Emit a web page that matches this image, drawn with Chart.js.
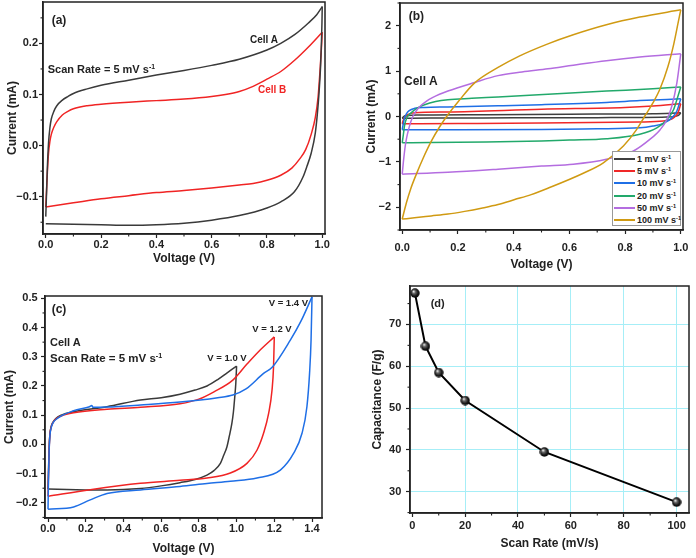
<!DOCTYPE html>
<html><head><meta charset="utf-8">
<script src="https://cdn.jsdelivr.net/npm/chart.js@4.4.0/dist/chart.umd.min.js"></script>
<style>
html,body{margin:0;padding:0;background:#fff;}
#wrap{position:relative;width:696px;height:558px;overflow:hidden;font-family:"Liberation Sans",Arial,sans-serif;}
canvas{position:absolute;}
.t{position:absolute;font-weight:bold;white-space:nowrap;line-height:1;color:#222;}
sup{font-size:0.62em;vertical-align:0.55em;line-height:0;}
#legB{position:absolute;left:612px;top:151px;width:69px;height:75px;border:1px solid #999;box-sizing:border-box;background:#fff;padding-top:1px;font-weight:bold;font-size:9px;color:#222;}
.lr{position:relative;height:12.2px;line-height:12.2px;padding-left:24px;white-space:nowrap;}
.ls{position:absolute;left:1px;top:5px;width:21px;height:2px;}
</style></head><body><div id="wrap">
<canvas id="ca" width="348" height="279" style="left:0;top:0"></canvas>
<canvas id="cb" width="348" height="279" style="left:348px;top:0"></canvas>
<canvas id="cc" width="348" height="279" style="left:0;top:279px"></canvas>
<canvas id="cd" width="348" height="279" style="left:348px;top:279px"></canvas>
<div id="legB"></div>
</div>
<script>
// ---------------- Panel (a): Cell A / Cell B, 5 mV/s ----------------
const aCellA_V = [0,0.003,0.006,0.01,0.015,0.02,0.03,0.04,0.06,0.08,0.1,0.15,0.2,0.3,0.4,0.5,0.6,0.7,0.8,0.85,0.9,0.95,0.98,1.0,0.999,0.997,0.994,0.988,0.982,0.975,0.96,0.945,0.93,0.9,0.85,0.8,0.7,0.6,0.5,0.4,0.3,0.2,0.1,0];
const aCellA_I = [-0.139,-0.09,-0.04,0.005,0.035,0.052,0.068,0.078,0.089,0.096,0.102,0.111,0.118,0.128,0.138,0.147,0.157,0.169,0.187,0.2,0.217,0.24,0.256,0.272,0.24,0.2,0.155,0.1,0.06,0.025,-0.015,-0.04,-0.062,-0.09,-0.11,-0.122,-0.137,-0.146,-0.152,-0.155,-0.156,-0.155,-0.154,-0.153];
const aCellB_V = [0,0.003,0.006,0.01,0.015,0.02,0.03,0.04,0.06,0.08,0.1,0.15,0.2,0.3,0.4,0.5,0.6,0.65,0.7,0.75,0.8,0.85,0.9,0.95,1.0,0.997,0.993,0.985,0.975,0.96,0.94,0.92,0.89,0.85,0.8,0.75,0.7,0.6,0.5,0.4,0.3,0.2,0.1,0];
const aCellB_I = [-0.12,-0.085,-0.05,-0.015,0.008,0.022,0.037,0.047,0.06,0.067,0.072,0.078,0.081,0.085,0.088,0.091,0.096,0.1,0.106,0.116,0.13,0.145,0.167,0.193,0.222,0.19,0.155,0.095,0.055,0.022,-0.008,-0.025,-0.044,-0.058,-0.068,-0.074,-0.077,-0.083,-0.088,-0.092,-0.098,-0.104,-0.112,-0.12];
const aXTicks = [0,0.2,0.4,0.6,0.8,1.0], aXMinor = [0.1,0.3,0.5,0.7,0.9];
const aYTicks = [-0.1,0,0.1,0.2], aYMinor = [-0.15,-0.05,0.05,0.15,0.25];

// ---------------- Panel (b): Cell A, scan rates ----------------
const bRates = ['1','5','10','20','50','100'];
const b1_V = [0,0.005,0.02,0.06,0.3,0.6,0.9,1.0,0.99,0.95,0.7,0.4,0.1,0];
const b1_I = [-0.04,0.0,0.022,0.032,0.04,0.05,0.063,0.08,0.02,-0.01,-0.025,-0.03,-0.035,-0.04];
const b5_V = [0,0.004,0.01,0.02,0.044,0.164,0.5,0.8,0.9,1.0,0.99,0.974,0.938,0.853,0.5,0.2,0];
const b5_I = [-0.16,-0.08,-0.02,0.04,0.08,0.1,0.16,0.2,0.23,0.28,0.08,-0.03,-0.1,-0.12,-0.145,-0.155,-0.16];
const b10_V = [0,0.004,0.008,0.015,0.025,0.045,0.08,0.164,0.344,0.5,0.733,0.853,1.0,0.986,0.968,0.938,0.9,0.853,0.7,0.5,0.2,0];
const b10_I = [-0.29,-0.15,-0.04,0.06,0.13,0.18,0.2,0.21,0.235,0.26,0.31,0.35,0.39,0.12,-0.03,-0.15,-0.21,-0.25,-0.27,-0.285,-0.29,-0.29];
const b20_V = [0,0.004,0.008,0.015,0.032,0.055,0.08,0.12,0.164,0.25,0.344,0.523,0.733,0.9,1.0,0.986,0.974,0.95,0.914,0.853,0.733,0.6,0.5,0.3,0.1,0];
const b20_I = [-0.58,-0.4,-0.21,-0.05,0.08,0.19,0.26,0.33,0.37,0.4,0.43,0.49,0.56,0.61,0.65,0.37,0.15,-0.07,-0.25,-0.39,-0.49,-0.52,-0.54,-0.56,-0.57,-0.58];
const b50_V = [0,0.005,0.012,0.022,0.038,0.06,0.085,0.11,0.164,0.26,0.344,0.43,0.523,0.614,0.733,0.853,1.0,0.986,0.968,0.95,0.926,0.89,0.83,0.733,0.614,0.5,0.344,0.164,0];
const b50_I = [-1.27,-0.95,-0.6,-0.3,0.0,0.2,0.33,0.42,0.56,0.75,0.9,0.98,1.05,1.13,1.23,1.31,1.38,0.74,0.23,-0.07,-0.29,-0.5,-0.76,-0.94,-1.05,-1.09,-1.16,-1.23,-1.27];
const b100_V = [0,0.015,0.03,0.05,0.075,0.104,0.135,0.164,0.2,0.26,0.344,0.42,0.523,0.614,0.733,0.853,1.0,0.99,0.975,0.954,0.925,0.9,0.87,0.84,0.794,0.722,0.65,0.523,0.463,0.404,0.344,0.284,0.224,0.164,0.104,0.044,0];
const b100_I = [-2.26,-1.9,-1.6,-1.28,-0.92,-0.55,-0.22,0.04,0.32,0.74,1.08,1.33,1.6,1.8,2.02,2.19,2.35,2.05,1.6,1.1,0.6,0.3,0.0,-0.3,-0.65,-1.02,-1.25,-1.58,-1.72,-1.83,-1.94,-2.02,-2.09,-2.15,-2.19,-2.23,-2.26];
const bXTicks = [0,0.2,0.4,0.6,0.8,1.0], bXMinor = [0.1,0.3,0.5,0.7,0.9];
const bYTicks = [-2,-1,0,1,2], bYMinor = [-2.5,-1.5,-0.5,0.5,1.5,2.5];

// ---------------- Panel (c): Cell A, voltage windows ----------------
const cWindows = ['V = 1.0 V','V = 1.2 V','V = 1.4 V'];
const c10_V = [0,0.003,0.006,0.01,0.016,0.025,0.04,0.07,0.136,0.313,0.49,0.6,0.7,0.78,0.843,0.9,0.95,1.0,0.996,0.99,0.983,0.975,0.962,0.949,0.93,0.914,0.88,0.843,0.78,0.7,0.6,0.49,0.313,0.15,0];
const c10_I = [-0.153,-0.08,-0.01,0.035,0.06,0.075,0.088,0.1,0.112,0.129,0.152,0.16,0.172,0.186,0.2,0.222,0.245,0.268,0.21,0.16,0.11,0.072,0.03,-0.008,-0.04,-0.065,-0.09,-0.105,-0.12,-0.131,-0.142,-0.151,-0.156,-0.155,-0.153];
const c12_V = [0,0.003,0.006,0.01,0.016,0.025,0.04,0.07,0.136,0.313,0.49,0.7,0.8,0.88,0.98,1.055,1.12,1.2,1.196,1.188,1.17,1.143,1.108,1.055,0.967,0.843,0.7,0.49,0.224,0];
const c12_I = [-0.178,-0.09,-0.015,0.033,0.057,0.073,0.086,0.097,0.108,0.12,0.127,0.139,0.155,0.18,0.22,0.275,0.32,0.368,0.266,0.186,0.106,0.038,-0.02,-0.065,-0.098,-0.115,-0.123,-0.133,-0.155,-0.178];
const c14_V = [0,0.003,0.006,0.01,0.016,0.025,0.05,0.136,0.22,0.232,0.238,0.313,0.49,0.7,0.9,0.98,1.05,1.143,1.19,1.285,1.34,1.4,1.395,1.387,1.373,1.347,1.302,1.232,1.108,0.967,0.843,0.7,0.49,0.313,0.224,0.136,0];
const c14_I = [-0.222,-0.1,-0.02,0.03,0.055,0.072,0.089,0.115,0.129,0.133,0.127,0.128,0.135,0.145,0.16,0.169,0.19,0.243,0.265,0.357,0.42,0.505,0.357,0.243,0.129,0.038,-0.031,-0.088,-0.115,-0.126,-0.134,-0.144,-0.156,-0.168,-0.19,-0.214,-0.222];
const cXTicks = [0,0.2,0.4,0.6,0.8,1.0,1.2,1.4], cXMinor = [0.1,0.3,0.5,0.7,0.9,1.1,1.3];
const cYTicks = [-0.2,-0.1,0,0.1,0.2,0.3,0.4,0.5], cYMinor = [-0.25,-0.15,-0.05,0.05,0.15,0.25,0.35,0.45];

// ---------------- Panel (d): capacitance vs scan rate ----------------
const dScanRate = [1,5,10,20,50,100];
const dCapacitance = [77.5,64.8,58.5,51.8,39.5,27.5];
const dXTicks = [0,20,40,60,80,100], dXMinor = [10,30,50,70,90];
const dYTicks = [30,40,50,60,70], dYMinor = [25,35,45,55,65,75];

// ---------------- helpers ----------------
const FF = '"Liberation Sans", Arial, sans-serif';
Chart.defaults.font.family = FF;
Chart.defaults.font.weight = 'bold';
Chart.defaults.color = '#222';
const INK = '#222';

function loop(V, I) {
  const k = V.indexOf(Math.max(...V));
  const up = [], down = [];
  for (let i = 0; i <= k; i++) up.push({x: V[i], y: I[i]});
  for (let i = k; i < V.length; i++) down.push({x: V[i], y: I[i]});
  return [up, down];
}
function loopSets(V, I, color, width) {
  return loop(V, I).map(d => ({data: d, borderColor: color, borderWidth: width || 1.5, pointRadius: 0,
    showLine: true, fill: false, cubicInterpolationMode: 'monotone'}));
}
const minus = s => s.replace('-', '\u2212');

const framePlugin = {
  id: 'frame',
  afterDatasetsDraw(chart, args, opts) {
    const {ctx, chartArea: a} = chart;
    ctx.save();
    // minor ticks
    ctx.strokeStyle = INK; ctx.lineWidth = 1.1;
    const xs = chart.scales.x, ys = chart.scales.y;
    (opts.xMinor || []).forEach(v => { const p = xs.getPixelForValue(v); ctx.beginPath(); ctx.moveTo(p, a.bottom); ctx.lineTo(p, a.bottom + 2.5); ctx.stroke(); });
    (opts.yMinor || []).forEach(v => { const p = ys.getPixelForValue(v); ctx.beginPath(); ctx.moveTo(a.left, p); ctx.lineTo(a.left - 2.5, p); ctx.stroke(); });
    ctx.lineWidth = 1.5;
    ctx.strokeRect(a.left, a.top, a.right - a.left, a.bottom - a.top);
    ctx.restore();
  }
};

function makePanel(id, c) {
  const gridColor = c.grid ? (ctx => (ctx.tick && ctx.tick.value !== 0 ? '#a6eef7' : 'rgba(0,0,0,0)')) : 'rgba(0,0,0,0)';
  return new Chart(document.getElementById(id), {
    type: 'scatter',
    data: {datasets: c.datasets},
    plugins: [framePlugin],
    options: {
      responsive: false, animation: false, events: [],
      layout: {padding: {left: 0, top: c.area.t, right: 348 - c.area.r, bottom: 0}},
      plugins: {legend: {display: false}, tooltip: {enabled: false}, frame: {xMinor: c.xMinor, yMinor: c.yMinor}},
      scales: {
        x: {
          type: 'linear', min: c.xMin, max: c.xMax,
          afterBuildTicks: s => { s.ticks = c.xTicks.map(v => ({value: v})); },
          afterFit: s => { s.height = 279 - c.area.b; s.paddingLeft = 0; s.paddingRight = 0; },
          ticks: {callback: c.xFmt, font: {size: 11, weight: 'bold'}, color: INK, padding: c.xLabelPad, maxRotation: 0, autoSkip: false},
          grid: {drawOnChartArea: !!c.grid, color: gridColor, lineWidth: 1, tickLength: 4, tickColor: INK, tickWidth: 1.2},
          border: {display: true, color: INK, width: 1.5},
          title: {display: true, text: c.xTitle, font: {size: 12, weight: 'bold'}, color: INK, padding: {top: 0, bottom: c.xTitlePad}}
        },
        y: {
          type: 'linear', min: c.yMin, max: c.yMax,
          afterBuildTicks: s => { s.ticks = c.yTicks.map(v => ({value: v})); },
          afterFit: s => { s.width = c.area.l; s.paddingTop = 0; s.paddingBottom = 0; },
          ticks: {callback: c.yFmt, font: {size: 11, weight: 'bold'}, color: INK, padding: c.yLabelPad, autoSkip: false},
          grid: {drawOnChartArea: !!c.grid, color: gridColor, lineWidth: 1, tickLength: 4, tickColor: INK, tickWidth: 1.2},
          border: {display: true, color: INK, width: 1.5},
          title: {display: true, text: c.yTitle, font: {size: 12, weight: 'bold'}, color: INK, padding: {top: c.yTitlePad, bottom: 0}}
        }
      }
    }
  });
}

// ---------------- Panel (a) ----------------
makePanel('ca', {
  area: {l: 43, r: 325, t: 2, b: 234},
  xMin: -0.01, xMax: 1.01, yMin: -0.173, yMax: 0.281,
  xTicks: aXTicks, xMinor: aXMinor, yTicks: aYTicks, yMinor: aYMinor,
  xFmt: v => v.toFixed(1), yFmt: v => minus(v.toFixed(1)),
  xLabelPad: 0.5, yLabelPad: 1, xTitlePad: 13.5, yTitlePad: 5.8,
  xTitle: 'Voltage (V)', yTitle: 'Current (mA)',
  datasets: [...loopSets(aCellA_V, aCellA_I, '#3a3a3a'), ...loopSets(aCellB_V, aCellB_I, '#f02424')]
});

// ---------------- Panel (b) ----------------
const bColors = ['#3f3f3f', '#f02828', '#1f6fe6', '#22a96b', '#b46de0', '#d09a12'];
const bV = [b1_V, b5_V, b10_V, b20_V, b50_V, b100_V], bI = [b1_I, b5_I, b10_I, b20_I, b50_I, b100_I];
const bSets = [];
for (let i = bV.length - 1; i >= 0; i--) bSets.push(...loopSets(bV[i], bI[i], bColors[i]));
makePanel('cb', {
  area: {l: 52, r: 335, t: 3, b: 230},
  xMin: -0.008, xMax: 1.008, yMin: -2.5, yMax: 2.5,
  xTicks: bXTicks, xMinor: bXMinor, yTicks: bYTicks, yMinor: bYMinor,
  xFmt: v => v.toFixed(1), yFmt: v => minus(String(v)),
  xLabelPad: 7.5, yLabelPad: 5, xTitlePad: 6.8, yTitlePad: 16,
  xTitle: 'Voltage (V)', yTitle: 'Current (mA)',
  datasets: bSets
});

// ---------------- Panel (c) ----------------
makePanel('cc', {
  area: {l: 45, r: 322, t: 17, b: 239},
  xMin: -0.016, xMax: 1.453, yMin: -0.252, yMax: 0.508,
  xTicks: cXTicks, xMinor: cXMinor, yTicks: cYTicks, yMinor: cYMinor,
  xFmt: v => v.toFixed(1), yFmt: v => minus(v.toFixed(1)),
  xLabelPad: 0, yLabelPad: 3.4, xTitlePad: 2.5, yTitlePad: 2.8,
  xTitle: 'Voltage (V)', yTitle: 'Current (mA)',
  datasets: [...loopSets(c14_V, c14_I, '#1f6fe6'), ...loopSets(c12_V, c12_I, '#f02424'), ...loopSets(c10_V, c10_I, '#3a3a3a')]
});

// ---------------- Panel (d) ----------------
function sphere(d) {
  const cv = document.createElement('canvas'); cv.width = cv.height = d;
  const g = cv.getContext('2d'); const r = d / 2;
  const gr = g.createRadialGradient(r * 0.7, r * 0.65, 0.3, r, r, r);
  gr.addColorStop(0, '#f4f4f4'); gr.addColorStop(0.3, '#666'); gr.addColorStop(0.7, '#151515'); gr.addColorStop(1, '#000');
  g.fillStyle = gr; g.beginPath(); g.arc(r, r, r - 0.3, 0, Math.PI * 2); g.fill();
  return cv;
}
makePanel('cd', {
  area: {l: 62, r: 344, t: 5, b: 234},
  xMin: -0.86, xMax: 104.7, yMin: 24.9, yMax: 79.2, grid: true,
  xTicks: dXTicks, xMinor: dXMinor, yTicks: dYTicks, yMinor: dYMinor,
  xFmt: v => String(v), yFmt: v => String(v),
  xLabelPad: 2.4, yLabelPad: 4.7, xTitlePad: 6.8, yTitlePad: 22.8,
  xTitle: 'Scan Rate (mV/s)', yTitle: 'Capacitance (F/g)',
  datasets: [{data: dScanRate.map((x, i) => ({x, y: dCapacitance[i]})), showLine: true, borderColor: '#000', borderWidth: 2,
    pointStyle: sphere(10), pointRadius: 5, tension: 0}]
});

// ---------------- legend (b) ----------------
const leg = document.getElementById('legB');
bRates.forEach((r, i) => {
  const row = document.createElement('div'); row.className = 'lr';
  row.innerHTML = '<span class="ls" style="background:' + bColors[i] + '"></span>' + r + ' mV s<sup>-1</sup>';
  leg.appendChild(row);
});

// ---------------- annotations ----------------
const wrap = document.getElementById('wrap');
function txt(x, cy, size, html, color) {
  const d = document.createElement('div'); d.className = 't';
  d.style.left = x + 'px'; d.style.top = (cy - 0.49 * size) + 'px'; d.style.fontSize = size + 'px';
  if (color) d.style.color = color;
  d.innerHTML = html; wrap.appendChild(d);
}
txt(51.7, 20, 12, '(a)');
txt(250, 40, 10, 'Cell A');
txt(258, 90, 10, 'Cell B', '#f02424');
txt(47.7, 69, 11, 'Scan Rate = 5 mV s<sup>-1</sup>');
txt(408.7, 16, 12, '(b)');
txt(404, 81, 12, 'Cell A');
txt(51.7, 309, 12, '(c)');
txt(50, 342.3, 11, 'Cell A');
txt(50, 359, 11.5, 'Scan Rate = 5 mV s<sup>-1</sup>');
txt(207.3, 358, 9.5, cWindows[0]);
txt(252.3, 328.3, 9.5, cWindows[1]);
txt(268.7, 303, 9.5, cWindows[2]);
txt(430.7, 303, 11, '(d)');
</script>
</body></html>
